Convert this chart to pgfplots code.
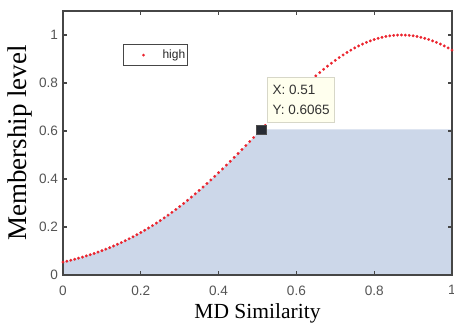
\documentclass[border=0pt]{standalone}
\usepackage{pgfplots}
\usepackage{pgfplotstable}
\pgfplotsset{compat=1.18}
\usepackage{fontspec}
\setmainfont{Liberation Sans}
\newfontfamily\timesfont{Liberation Serif}
\definecolor{axisgray}{RGB}{70,70,70}
\definecolor{ticklab}{RGB}{85,85,85}
\definecolor{curvered}{RGB}{235,35,45}
\definecolor{areablue}{RGB}{204,215,233}
\definecolor{tipfill}{RGB}{255,255,238}
\definecolor{tipedge}{RGB}{215,215,200}
\definecolor{markfill}{RGB}{40,44,52}

\pgfplotstableread{
x y
0.00 0.0539
0.01 0.0577
0.02 0.0616
0.03 0.0657
0.04 0.0701
0.05 0.0747
0.06 0.0796
0.07 0.0847
0.08 0.0900
0.09 0.0956
0.10 0.1015
0.11 0.1077
0.12 0.1142
0.13 0.1209
0.14 0.1280
0.15 0.1353
0.16 0.1430
0.17 0.1510
0.18 0.1593
0.19 0.1680
0.20 0.1770
0.21 0.1863
0.22 0.1959
0.23 0.2059
0.24 0.2163
0.25 0.2270
0.26 0.2380
0.27 0.2494
0.28 0.2611
0.29 0.2731
0.30 0.2855
0.31 0.2982
0.32 0.3113
0.33 0.3247
0.34 0.3383
0.35 0.3523
0.36 0.3666
0.37 0.3812
0.38 0.3960
0.39 0.4111
0.40 0.4265
0.41 0.4420
0.42 0.4578
0.43 0.4738
0.44 0.4900
0.45 0.5063
0.46 0.5229
0.47 0.5394
0.48 0.5561
0.49 0.5729
0.50 0.5897
0.51 0.6065
0.52 0.6234
0.53 0.6402
0.54 0.6570
0.55 0.6736
0.56 0.6902
0.57 0.7067
0.58 0.7229
0.59 0.7390
0.60 0.7548
0.61 0.7704
0.62 0.7857
0.63 0.8007
0.64 0.8154
0.65 0.8297
0.66 0.8435
0.67 0.8570
0.68 0.8700
0.69 0.8825
0.70 0.8945
0.71 0.9060
0.72 0.9169
0.73 0.9272
0.74 0.9369
0.75 0.9460
0.76 0.9544
0.77 0.9622
0.78 0.9692
0.79 0.9756
0.80 0.9813
0.81 0.9862
0.82 0.9904
0.83 0.9939
0.84 0.9965
0.85 0.9985
0.86 0.9996
0.87 1.0000
0.88 0.9996
0.89 0.9985
0.90 0.9965
0.91 0.9939
0.92 0.9904
0.93 0.9862
0.94 0.9813
0.95 0.9756
0.96 0.9692
0.97 0.9622
0.98 0.9544
0.99 0.9460
1.00 0.9369
}\curvedata

\pgfplotstableread{
x y
0.00 0.0539
0.02 0.0616
0.04 0.0701
0.06 0.0796
0.08 0.0900
0.10 0.1015
0.12 0.1142
0.14 0.1280
0.16 0.1430
0.18 0.1593
0.20 0.1770
0.22 0.1959
0.24 0.2163
0.26 0.2380
0.28 0.2611
0.30 0.2855
0.32 0.3113
0.34 0.3383
0.36 0.3666
0.38 0.3960
0.40 0.4265
0.42 0.4578
0.44 0.4900
0.46 0.5229
0.48 0.5561
0.50 0.5897
0.51 0.6065
1.00 0.6065
}\areadata

\begin{document}
\begin{tikzpicture}
\path[use as bounding box] (-63pt,-53pt) rectangle (391pt,275pt);
\begin{axis}[
  at={(0pt,0pt)}, anchor=south west,
  scale only axis, width=389pt, height=264pt,
  xmin=0, xmax=1, ymin=0, ymax=1.1,
  axis on top,
  axis line style={draw=axisgray, line width=1.6pt},
  xtick={0,0.2,0.4,0.6,0.8,1},
  ytick={0,0.2,0.4,0.6,0.8,1},
  tick align=inside, tick pos=both,
  major tick length=4pt,
  every tick/.style={draw=axisgray, line width=1.2pt},
  /pgf/number format/assume math mode=true,
  tick label style={font=\fontsize{13.6}{14}\selectfont, text=ticklab},
  xticklabel style={yshift=-7pt},
  yticklabel style={xshift=-1.5pt},
  xlabel={MD Similarity},
  ylabel={Membership level},
  xlabel style={font=\timesfont\fontsize{21.5}{22}\selectfont, at={(axis description cs:0.5,-0.163)}, anchor=base},
  ylabel style={font=\timesfont\fontsize{27}{28}\selectfont, at={(axis description cs:-0.1105,0.5)}, anchor=center},
  legend style={at={(axis cs:0.154,0.963)}, anchor=north west, draw=axisgray, line width=1.3pt, fill=white,
    inner xsep=0pt, inner ysep=3.5pt, font=\fontsize{12}{12}\selectfont, text=black!85},
]
\addplot[fill=areablue, draw=none, forget plot] table {\areadata} \closedcycle;
\addplot[curvered, only marks, mark=*, mark size=1.35pt, mark options={solid, fill=curvered, draw=curvered, line width=0.2pt},
  legend image code/.code={\path[draw=none] (0pt,0pt) -- (37pt,0pt); \fill[curvered, draw=none] (20pt,0pt) circle (1.5pt);}]
  table {\curvedata};
\addlegendentry{high}
\coordinate (tip) at (axis cs:0.51,0.6065);
\end{axis}
\node[anchor=south west, xshift=6pt, yshift=7pt, fill=tipfill, draw=tipedge, line width=0.6pt,
  align=left, inner xsep=5pt, inner ysep=7.5pt, font=\fontsize{13.5}{20}\selectfont, text=black!80]
  at (tip) {X: 0.51\\Y: 0.6065};
\begin{axis}[
  at={(0pt,0pt)}, anchor=south west,
  scale only axis, width=389pt, height=264pt,
  xmin=0, xmax=1, ymin=0, ymax=1.1,
  hide axis,
]
\addplot[only marks, mark=square*, mark size=4.6pt, mark options={fill=markfill, draw=gray!60!black, line width=0.6pt, solid}]
  coordinates {(0.51,0.6065)};
\end{axis}
\end{tikzpicture}
\end{document}
